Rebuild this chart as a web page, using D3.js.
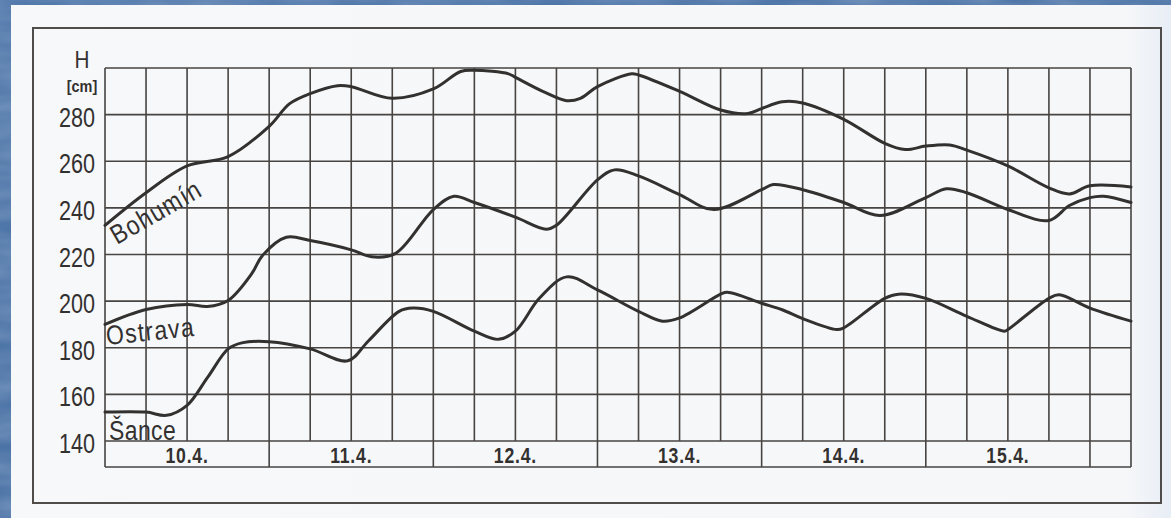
<!DOCTYPE html>
<html>
<head>
<meta charset="utf-8">
<script src="https://cdn.jsdelivr.net/npm/d3@7/dist/d3.min.js"></script>
<style>
  html, body { margin: 0; padding: 0; background: #4b74a6; }
  svg { display: block; }
</style>
</head>
<body>
<svg id="chart" width="1171" height="518"></svg>
<script>
// ---- data (hours since 10.4. 00:00, water level H in cm) ----
const bohuminHours  = [0, 6, 12, 18, 24, 27, 30, 34, 36, 42, 48, 52, 54, 59, 60, 64, 67.5, 69.5, 72, 77, 78, 84, 90, 94, 96, 99, 102, 108, 114, 117, 120, 123.5, 126, 132, 138, 141, 144, 150];
const bohuminValues = [232.5, 246.5, 258, 262, 275, 284.7, 289, 292.4, 292, 287, 291, 298.5, 299, 297.5, 296, 290, 286, 287, 292, 297.5, 297, 290, 282, 280.5, 282.6, 285.5, 285, 278, 267.7, 265, 266.5, 267, 264.8, 258, 248.6, 246, 249.5, 249];

const ostravaHours  = [0, 6, 12, 15, 18, 21.5, 23, 26.5, 30, 36, 39, 42.5, 48, 51, 54, 60, 64.5, 66, 72, 74.5, 78, 84, 89, 96, 97.7, 102, 108, 113.3, 120, 123, 126, 132, 138, 141, 144, 146, 150];
const ostravaValues = [190, 196.4, 198.6, 197.7, 200.3, 212, 219.5, 227.4, 226, 222, 219, 220.5, 239.3, 245, 242.3, 236, 230.8, 232.5, 252, 256.3, 253.7, 245.7, 239.3, 247.8, 250, 247.8, 242.3, 236.7, 244.4, 248.2, 246.5, 239.3, 234.6, 241, 244.4, 245, 242.3];

const sanceHours  = [0, 6, 9, 12, 15, 18, 20, 24, 30, 35.5, 38.5, 43, 45, 48, 54, 57.5, 60, 63.5, 67.5, 72, 78, 81.5, 84, 90, 91, 96, 99, 102, 107, 108, 114, 116, 120, 126, 131.5, 132, 138, 139.5, 144, 150];
const sanceValues = [152.4, 152.4, 151, 155.3, 167.3, 179.5, 182.1, 182.6, 179.5, 174.4, 182.9, 195.6, 197, 195.6, 187.1, 183.6, 187.1, 201.2, 210.4, 204.8, 195.6, 191.4, 192.8, 203, 203.8, 199.1, 196.3, 192.5, 187.8, 188.5, 201.2, 203, 201.2, 193.5, 187.1, 187.8, 201.2, 202.7, 197, 191.4];

const yTickValues = [140, 160, 180, 200, 220, 240, 260, 280];
const dayLabels   = ["10.4.", "11.4.", "12.4.", "13.4.", "14.4.", "15.4."];
const seriesNames = ["Bohumín", "Ostrava", "Šance"];

// ---- layout ----
const W = 1171, H = 518;
const svg = d3.select("#chart");
const ink = "#333130";
const gridInk = "#474442";
const font = "'Liberation Sans', Arial, sans-serif";

// background texture
const defs = svg.append("defs");
const bg = defs.append("linearGradient").attr("id", "bg").attr("x1", 0).attr("y1", 0).attr("x2", 1).attr("y2", 1);
bg.append("stop").attr("offset", "0%").attr("stop-color", "#5279ab");
bg.append("stop").attr("offset", "50%").attr("stop-color", "#4a72a5");
bg.append("stop").attr("offset", "100%").attr("stop-color", "#4470a3");
const f = defs.append("filter").attr("id", "tex").attr("x", 0).attr("y", 0).attr("width", "100%").attr("height", "100%");
f.append("feTurbulence").attr("type", "fractalNoise").attr("baseFrequency", "0.012 0.05").attr("numOctaves", 3).attr("seed", 4).attr("result", "n");
f.append("feColorMatrix").attr("in", "n").attr("type", "matrix")
  .attr("values", "0 0 0 0 0.85  0 0 0 0 0.9  0 0 0 0 1  0 0 0 0.35 -0.08");
svg.append("rect").attr("width", W).attr("height", H).attr("fill", "url(#bg)");
svg.append("rect").attr("width", W).attr("height", H).attr("filter", "url(#tex)");

// paper
const pg = defs.append("linearGradient").attr("id", "paper").attr("x1", 0).attr("y1", 0).attr("x2", 1).attr("y2", 0);
pg.append("stop").attr("offset", "0%").attr("stop-color", "#f7f8fa");
pg.append("stop").attr("offset", "96%").attr("stop-color", "#f6f7f9");
pg.append("stop").attr("offset", "100%").attr("stop-color", "#e8eef6");
svg.append("rect").attr("x", 11).attr("y", 5).attr("width", W - 11).attr("height", H - 5).attr("fill", "url(#paper)");

// outer frame
svg.append("rect").attr("x", 33).attr("y", 28).attr("width", 1128).attr("height", 475)
  .attr("fill", "none").attr("stroke", "#4f4c4a").attr("stroke-width", 2);

// scales
const x = d3.scaleLinear().domain([0, 150]).range([105, 1131]);
const y = d3.scaleLinear().domain([140, 300]).range([441, 68]);
const bandBottom = y(140) + 26;

const g = svg.append("g");

// horizontal grid
g.selectAll("line.h").data(d3.range(140, 301, 20)).join("line")
  .attr("x1", x(0)).attr("x2", x(150))
  .attr("y1", d => y(d)).attr("y2", d => y(d))
  .attr("stroke", gridInk).attr("stroke-width", 1.6);

// vertical grid (every 6 hours)
g.selectAll("line.v").data(d3.range(0, 151, 6)).join("line")
  .attr("x1", d => x(d)).attr("x2", d => x(d))
  .attr("y1", y(300)).attr("y2", y(140))
  .attr("stroke", gridInk).attr("stroke-width", 1.6);

// date band
g.append("line").attr("x1", x(0)).attr("x2", x(150)).attr("y1", bandBottom).attr("y2", bandBottom)
  .attr("stroke", gridInk).attr("stroke-width", 1.6);
g.selectAll("line.d").data([0, 24, 48, 72, 96, 120, 144, 150]).join("line")
  .attr("x1", d => x(d)).attr("x2", d => x(d))
  .attr("y1", y(140)).attr("y2", bandBottom)
  .attr("stroke", gridInk).attr("stroke-width", 1.6);

g.selectAll("text.day").data(dayLabels).join("text")
  .attr("transform", (d, i) => `translate(${x(i * 24 + 12)},${bandBottom - 4}) scale(0.8,1)`)
  .attr("text-anchor", "middle")
  .attr("font-family", font)
  .attr("font-weight", "bold")
  .attr("font-size", 22)
  .attr("letter-spacing", 1)
  .attr("fill", ink)
  .text(d => d);

// y axis tick labels
g.selectAll("text.yt").data(yTickValues).join("text")
  .attr("transform", d => `translate(95,${y(d) + 12}) scale(0.8,1)`)
  .attr("text-anchor", "end")
  .attr("font-family", font).attr("font-size", 27)
  .attr("fill", ink)
  .text(d => d);

g.append("text").attr("transform", "translate(82,68) scale(0.9,1)").attr("text-anchor", "middle")
  .attr("font-family", font).attr("font-size", 23).attr("fill", ink).text("H");
g.append("text").attr("transform", "translate(82,92) scale(0.85,1)").attr("text-anchor", "middle")
  .attr("font-family", font).attr("font-size", 17).attr("font-weight", "bold").attr("fill", ink).text("[cm]");

// curves
const line = d3.line().x(d => x(d[0])).y(d => y(d[1])).curve(d3.curveCatmullRom.alpha(0.5));
const series = [
  d3.zip(bohuminHours, bohuminValues),
  d3.zip(ostravaHours, ostravaValues),
  d3.zip(sanceHours, sanceValues)
];
g.selectAll("path.s").data(series).join("path")
  .attr("d", line)
  .attr("fill", "none")
  .attr("stroke", ink)
  .attr("stroke-width", 3)
  .attr("stroke-linecap", "round")
  .attr("stroke-linejoin", "round");

// series labels
const labelPos = [
  { x: 117, y: 245, rot: -30, ls: 1.5 },
  { x: 107, y: 345, rot: -6, ls: 1.5 },
  { x: 109, y: 440, rot: 0, ls: 0.5 }
];
g.selectAll("text.lab").data(seriesNames).join("text")
  .attr("transform", (d, i) => `translate(${labelPos[i].x},${labelPos[i].y}) rotate(${labelPos[i].rot}) scale(0.85,1)`)
  .attr("font-family", font).attr("font-size", 27)
  .attr("letter-spacing", (d, i) => labelPos[i].ls)
  .attr("fill", ink)
  .text(d => d);
</script>
</body>
</html>
